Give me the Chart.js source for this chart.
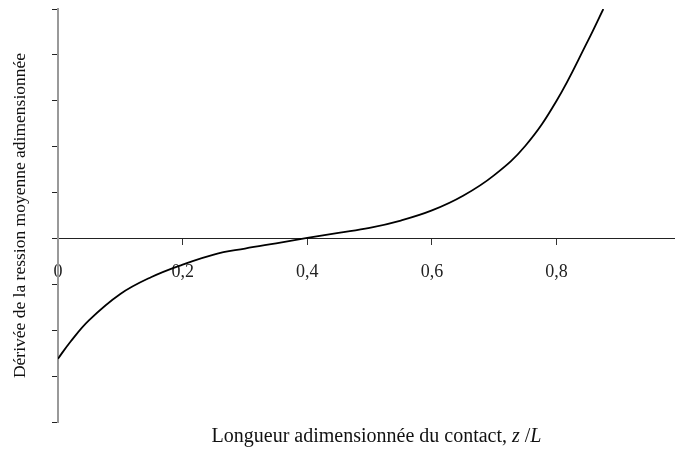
<!DOCTYPE html>
<html>
<head>
<meta charset="utf-8">
<script src="https://cdn.jsdelivr.net/npm/chart.js@4.4.0/dist/chart.umd.min.js"></script>
<style>
  html, body { margin: 0; padding: 0; background: #fff; }
  #wrap { width: 675px; height: 452px; }
</style>
</head>
<body>
<div id="wrap"><canvas id="grafico" width="675" height="452"></canvas></div>
<script>
// Données (z/L et dérivée adimensionnée)
const zL = [0, 0.02, 0.05, 0.1, 0.15, 0.2, 0.25, 0.3, 0.35, 0.4, 0.45, 0.5, 0.55, 0.6, 0.65, 0.7, 0.75, 0.8, 0.85, 0.875];
const derivee = [-2.62, -2.25, -1.78, -1.21, -0.84, -0.57, -0.35, -0.22, -0.105, 0.01, 0.12, 0.23, 0.39, 0.61, 0.93, 1.38, 2.02, 3.0, 4.3, 5.0];
const ticksX = [0, 0.2, 0.4, 0.6, 0.8];

// titre de l'axe x : morceaux (texte, italique ?)
const titreX = [['Longueur adimensionnée du contact, ', false], ['z', true], [' /', false], ['L', true]];
const titreY = 'Dérivée de la ression moyenne adimensionnée';

const police = '"Liberation Serif", "Times New Roman", serif';
const points = zL.map((x, i) => ({ x: x, y: derivee[i] }));

// dessine le titre de l'axe x avec z et L en italique
const titreXPlugin = {
    id: 'titreX',
    afterDraw(chart) {
        const c = chart.ctx;
        const s = chart.scales.x2;
        const taille = 20;
        c.save();
        c.fillStyle = '#111';
        c.textBaseline = 'middle';
        let largeur = 0;
        titreX.forEach(([t, it]) => {
            c.font = (it ? 'italic ' : '') + taille + 'px ' + police;
            largeur += c.measureText(t).width;
        });
        let x = (chart.chartArea.left + chart.chartArea.right) / 2 + 10 - largeur / 2;
        const y = s.bottom - 15;
        titreX.forEach(([t, it]) => {
            c.font = (it ? 'italic ' : '') + taille + 'px ' + police;
            c.fillText(t, x, y);
            x += c.measureText(t).width;
        });
        c.restore();
    }
};

const ctx = document.getElementById('grafico').getContext('2d');

new Chart(ctx, {
    type: 'line',
    data: {
        datasets: [{
            data: points,
            borderColor: '#000',
            borderWidth: 1.8,
            pointRadius: 0,
            tension: 0.4,
            fill: false
        }]
    },
    options: {
        responsive: false,
        animation: false,
        layout: { padding: { top: 9, right: 0, left: 0, bottom: 0 } },
        plugins: { legend: { display: false }, tooltip: { enabled: false } },
        scales: {
            x: {
                type: 'linear',
                position: { y: 0 },
                min: 0,
                max: 0.99,
                afterBuildTicks: (s) => { s.ticks = ticksX.map(v => ({ value: v })); },
                grid: { drawOnChartArea: false, tickLength: 6, color: '#333' },
                border: { color: '#222', width: 1 },
                ticks: {
                    padding: 17,
                    color: '#222',
                    font: { family: police, size: 18 },
                    callback: (v) => String(v).replace('.', ',')
                }
            },
            x2: {
                type: 'linear',
                position: 'bottom',
                min: 0,
                max: 0.99,
                grid: { display: false },
                border: { display: false },
                ticks: { display: false },
                afterFit: (s) => { s.height = 30; }
            },
            y: {
                min: -4,
                max: 5,
                ticks: { stepSize: 1, display: false },
                grid: { drawOnChartArea: false, tickLength: 6, color: '#222' },
                border: { color: '#999', width: 2 },
                afterFit: (s) => { s.width = 58; },
                title: {
                    display: true,
                    text: titreY,
                    color: '#111',
                    font: { family: police, size: 17.5 },
                    padding: { top: 10, bottom: 0 }
                }
            }
        }
    },
    plugins: [titreXPlugin]
});
</script>
</body>
</html>
